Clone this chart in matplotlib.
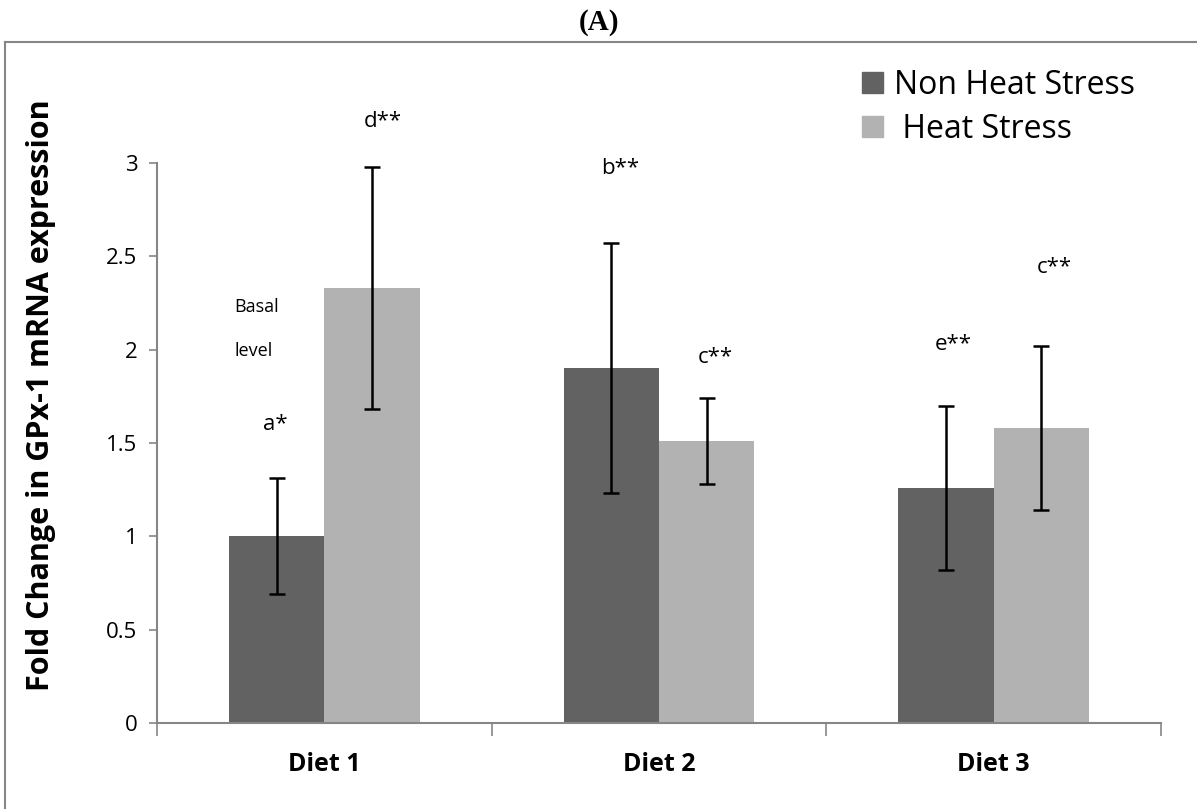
import matplotlib
matplotlib.use('Agg')
import matplotlib.pyplot as plt
from matplotlib.lines import Line2D
from matplotlib.patches import Patch
import numpy as np

plt.rcParams['font.family'] = ['Open Sans', 'DejaVu Sans']

diets = ['Diet 1', 'Diet 2', 'Diet 3']
non_heat = [1.0, 1.9, 1.26]
non_heat_err = [0.31, 0.67, 0.44]
heat = [2.33, 1.51, 1.58]
heat_err = [0.65, 0.23, 0.44]

# significance letters: (text, x in category units, y value)
sig_labels = ['a*', 'd**', 'b**', 'c**', 'e**', 'c**']
sig_x = [-0.148, 0.175, 0.883, 1.167, 1.878, 2.18]
sig_y = [1.60, 3.22, 2.97, 1.96, 2.03, 2.44]

dark = '#626262'
light = '#b2b2b2'
grey = '#868686'

fig = plt.figure(figsize=(11.97, 8.09), dpi=100)
ax = fig.add_axes([0.1312, 0.1063, 0.8388, 0.6923])

x = np.arange(len(diets))
w = 0.285
ax.bar(x - w / 2, non_heat, w, color=dark)
ax.bar(x + w / 2, heat, w, color=light)
ax.errorbar(x - w / 2, non_heat, yerr=non_heat_err, fmt='none', ecolor='black',
            elinewidth=1.8, capsize=5.5, capthick=1.8)
ax.errorbar(x + w / 2, heat, yerr=heat_err, fmt='none', ecolor='black',
            elinewidth=1.8, capsize=5.5, capthick=1.8)

ax.set_xlim(-0.5, 2.5)
ax.set_ylim(0, 3)
ax.set_yticks([0, 0.5, 1, 1.5, 2, 2.5, 3])
ax.set_yticklabels(['0', '0.5', '1', '1.5', '2', '2.5', '3'], fontsize=16)
ax.set_xticks(x)
ax.set_xticklabels(diets, fontsize=18, fontweight='bold')
ax.set_xticks([-0.5, 0.5, 1.5, 2.5], minor=True)
ax.tick_params(axis='x', which='major', length=0, pad=21)
ax.tick_params(axis='x', which='minor', length=9, color=grey, width=1.2)
ax.tick_params(axis='y', length=6, color=grey, width=1.2, pad=8)
for s in ['top', 'right']:
    ax.spines[s].set_visible(False)
for s in ['left', 'bottom']:
    ax.spines[s].set_color(grey)
    ax.spines[s].set_linewidth(1.5)

ax.set_ylabel('Fold Change in GPx-1 mRNA expression', fontsize=22,
              fontweight='bold')
ax.yaxis.set_label_coords(-0.1006, 0.585)

for t, xx, yy in zip(sig_labels, sig_x, sig_y):
    ax.text(xx, yy, t, ha='center', va='center', fontsize=16)
ax.text(-0.27, 2.23, 'Basal', ha='left', va='center', fontsize=13)
ax.text(-0.27, 1.99, 'level', ha='left', va='center', fontsize=13)

handles = [Patch(color=dark, label='Non Heat Stress'),
           Patch(color=light, label=' Heat Stress')]
fig.legend(handles=handles, loc='upper left', bbox_to_anchor=(0.720, 0.915),
           frameon=False, fontsize=23, handlelength=0.66, handleheight=0.66,
           handletextpad=0.35, labelspacing=0.35, borderpad=0,
           borderaxespad=0)

fig.text(0.5, 0.972, '(A)', ha='center', va='center', fontsize=21,
         fontweight='bold', family=['Liberation Serif', 'DejaVu Serif'])

# outer frame
fig.add_artist(Line2D([0.0045, 0.0045], [0, 0.948], color=grey, lw=1.5,
                      transform=fig.transFigure))
fig.add_artist(Line2D([0.0045, 1], [0.948, 0.948], color=grey, lw=1.5,
                      transform=fig.transFigure))

fig.savefig('out.png', dpi=100)
